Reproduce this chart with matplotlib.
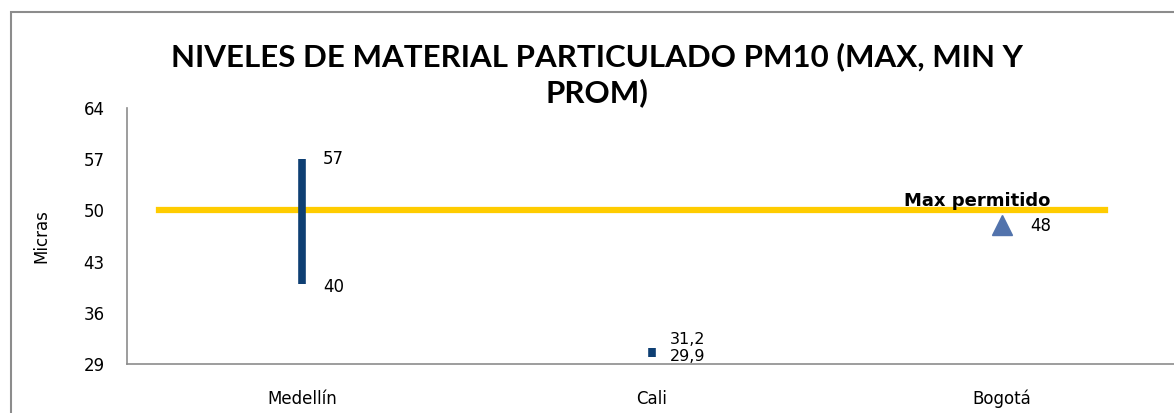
import matplotlib.pyplot as plt
import numpy as np
from matplotlib.patches import Rectangle

categories = ["Medellín", "Cali", "Bogotá"]
max_vals = [57, 31.2, np.nan]
min_vals = [40, 29.9, np.nan]
prom_vals = [np.nan, np.nan, 48]
max_label = ["57", "31,2", ""]
min_label = ["40", "29,9", ""]
prom_label = ["", "", "48"]
limit = 50
yticks = [29, 36, 43, 50, 57, 64]

W, H = 1174, 413
fig = plt.figure(figsize=(W / 100, H / 100), dpi=100)

# chart frame (cropped at right / bottom)
fig.patches.append(Rectangle((11 / W, -0.1), 1.2, 1 - 12 / H + 0.1,
                             transform=fig.transFigure, fill=False,
                             edgecolor="#8c8c8c", linewidth=1.5))

ax = fig.add_axes([127 / W, 1 - 364 / H, 1050 / W, 256 / H])
x = np.arange(len(categories))

ax.axhline(limit, xmin=0.03, xmax=0.931, color="#FFCC00", linewidth=4.5, zorder=2)
ax.vlines(x, min_vals, max_vals, color="#0E3F73", linewidth=5.5, zorder=3)
ax.plot(x, prom_vals, linestyle="none", marker="^", markersize=14,
        color="#5273AC", zorder=4)

for i in range(len(categories)):
    if max_label[i]:
        if max_vals[i] - min_vals[i] > 3:
            ax.annotate(max_label[i], (x[i], max_vals[i]), xytext=(15, 0),
                        textcoords="offset points", ha="left", va="center",
                        fontsize=12)
            ax.annotate(min_label[i], (x[i], min_vals[i]), xytext=(15, -2.5),
                        textcoords="offset points", ha="left", va="center",
                        fontsize=12)
        else:
            ax.annotate(max_label[i], (x[i], max_vals[i]), xytext=(13, 6),
                        textcoords="offset points", ha="left", va="center",
                        fontsize=11.5)
            ax.annotate(min_label[i], (x[i], min_vals[i]), xytext=(13, 0.5),
                        textcoords="offset points", ha="left", va="center",
                        fontsize=11.5)
    if prom_label[i]:
        ax.annotate(prom_label[i], (x[i], prom_vals[i]), xytext=(20, -1),
                    textcoords="offset points", ha="left", va="center",
                    fontsize=12)

ax.text(0.81, limit, "Max permitido", transform=ax.get_yaxis_transform(),
        ha="center", va="bottom", fontsize=13, fontweight="bold")

ax.set_xlim(-0.5, 2.5)
ax.set_ylim(29, 64)
ax.set_yticks(yticks)
ax.set_xticks(x)
ax.set_xticklabels(categories)
for lbl in ax.get_xticklabels():
    lbl.set_va("baseline")
ax.tick_params(axis="both", length=0, labelsize=12)
ax.tick_params(axis="y", pad=16)
ax.tick_params(axis="x", pad=29)
ax.set_ylabel("Micras", fontsize=12, labelpad=24)
for side in ["top", "right"]:
    ax.spines[side].set_visible(False)
for side in ["left", "bottom"]:
    ax.spines[side].set_color("#8c8c8c")
    ax.spines[side].set_linewidth(1.2)

fig.text(597 / W, 1 - 75 / H, "NIVELES DE MATERIAL PARTICULADO PM10 (MAX, MIN Y\nPROM)",
         ha="center", va="center", fontsize=22.5, fontweight="bold",
         family="Lato", linespacing=1.3)

fig.savefig("out.png", dpi=100)
